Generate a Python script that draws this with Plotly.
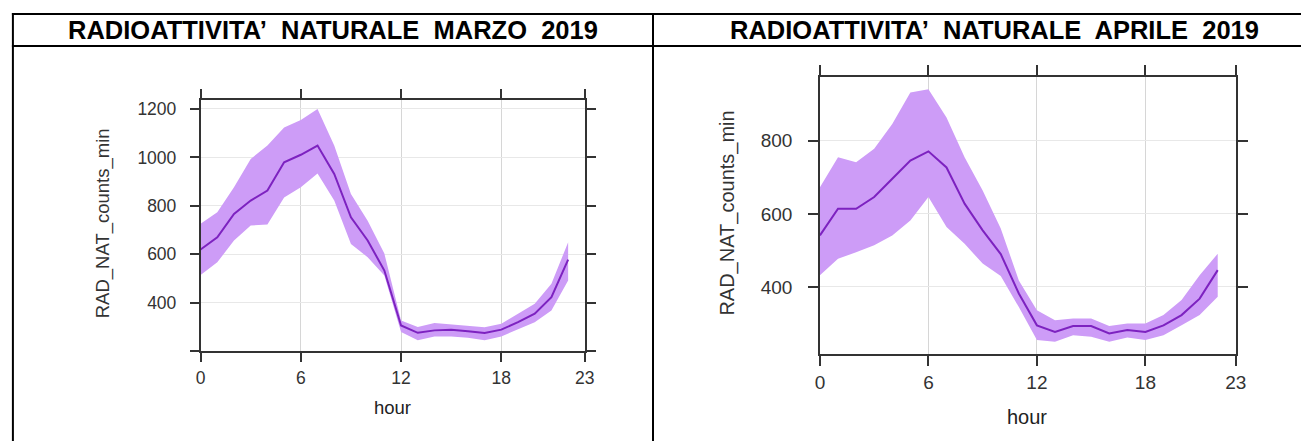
import plotly.graph_objects as go

# Hourly natural radioactivity (counts/min): mean and band limits
hours = list(range(23))

mar_mean = [620, 670, 767, 822, 863, 980, 1011, 1049, 932, 753, 657, 533,
            306, 276, 286, 289, 282, 275, 289, 320, 355, 423, 578]
mar_upper = [726, 774, 877, 994, 1049, 1124, 1155, 1200, 1049, 849, 739, 603,
             327, 300, 316, 310, 302, 299, 313, 355, 396, 478, 650]
mar_lower = [515, 567, 657, 719, 723, 835, 877, 934, 822, 643, 588, 513,
             279, 245, 261, 261, 256, 245, 261, 289, 320, 368, 492]

apr_mean = [541, 614, 614, 646, 696, 746, 771, 727, 628, 555, 490, 382,
            295, 277, 293, 293, 273, 282, 277, 295, 323, 368, 446]
apr_upper = [673, 755, 741, 778, 846, 932, 941, 864, 755, 664, 560, 418,
             336, 309, 314, 314, 293, 300, 300, 323, 364, 432, 491]
apr_lower = [432, 477, 495, 514, 541, 582, 646, 564, 518, 464, 430, 345,
             255, 250, 268, 264, 250, 262, 255, 268, 295, 323, 373]

x_ticks = [0, 6, 12, 18, 23]
mar_yticks = [200, 400, 600, 800, 1000, 1200]
mar_ylabels = ["", "400", "600", "800", "1000", "1200"]
apr_yticks = [400, 600, 800]
apr_ylabels = ["400", "600", "800"]

titles = ["RADIOATTIVITA\u2019\u00a0 NATURALE\u00a0 MARZO\u00a0 2019",
          "RADIOATTIVITA\u2019\u00a0 NATURALE\u00a0 APRILE\u00a0 2019"]

W, H = 1312, 441
BAND = "#cd9cf7"
LINE = "#7d22c0"
AX = "#333333"
FONT = "Liberation Sans, Arial, sans-serif"


def px(x):
    return x / W


def py(y):
    return 1 - y / H


fig = go.Figure()


def add_panel(idx, mean, upper, lower):
    xa = "x" if idx == 1 else "x2"
    ya = "y" if idx == 1 else "y2"
    fig.add_trace(go.Scatter(x=hours, y=lower, mode="lines", line=dict(width=0),
                             xaxis=xa, yaxis=ya, showlegend=False, hoverinfo="skip"))
    fig.add_trace(go.Scatter(x=hours, y=upper, mode="lines", line=dict(width=0),
                             fill="tonexty", fillcolor=BAND,
                             xaxis=xa, yaxis=ya, showlegend=False, hoverinfo="skip"))
    fig.add_trace(go.Scatter(x=hours, y=mean, mode="lines",
                             line=dict(color=LINE, width=2),
                             xaxis=xa, yaxis=ya, showlegend=False))


add_panel(1, mar_mean, mar_upper, mar_lower)
add_panel(2, apr_mean, apr_upper, apr_lower)


def axis_style(size, ticklen, standoff):
    return dict(showline=True, linecolor=AX, linewidth=1.5, mirror="ticks",
                ticks="outside", ticklen=ticklen, tickwidth=1.5, tickcolor=AX,
                tickfont=dict(family=FONT, size=size, color="#333333"),
                ticklabelstandoff=standoff, zeroline=False, showgrid=True,
                gridwidth=1)


fig.update_layout(
    width=W, height=H,
    margin=dict(l=0, r=0, t=0, b=0),
    paper_bgcolor="white", plot_bgcolor="white",
    xaxis=dict(domain=[px(198), px(587)], anchor="y", range=[0, 23],
               tickvals=x_ticks, gridcolor="#d6d6d6",
               **axis_style(17.5, 9, 1)),
    yaxis=dict(domain=[py(351), py(99)], anchor="x", range=[200, 1238],
               tickvals=mar_yticks, ticktext=mar_ylabels, gridcolor="#e8e8e8",
               **axis_style(17.5, 9, 10)),
    xaxis2=dict(domain=[px(825), px(1246)], anchor="y2", range=[0, 23],
                tickvals=x_ticks, gridcolor="#d6d6d6",
                **axis_style(19, 10, 0)),
    yaxis2=dict(domain=[py(354), py(76)], anchor="x2", range=[216, 975],
                tickvals=apr_yticks, ticktext=apr_ylabels, gridcolor="#e8e8e8",
                **axis_style(19, 10, 12)),
)

# Table frame around the two panels
frame = dict(color="black", width=2)
shapes = [
    dict(type="line", xref="paper", yref="paper", x0=px(7), x1=1.0, y0=py(13), y1=py(13), line=frame),
    dict(type="line", xref="paper", yref="paper", x0=px(7), x1=1.0, y0=py(45), y1=py(45), line=frame),
    dict(type="line", xref="paper", yref="paper", x0=px(8), x1=px(8), y0=py(12), y1=0, line=frame),
    dict(type="line", xref="paper", yref="paper", x0=px(656), x1=px(656), y0=py(12), y1=0, line=frame),
]
fig.update_layout(shapes=shapes)

annotations = [
    dict(text="<b>%s</b>" % titles[0], x=px(332), y=py(29)),
    dict(text="<b>%s</b>" % titles[1], x=px(1002), y=py(29)),
]
for a in annotations:
    a.update(xref="paper", yref="paper", showarrow=False, xanchor="center", yanchor="middle",
             font=dict(family=FONT, size=25.5, color="black"))

labels = [
    dict(text="hour", x=px(392), y=py(407), font=dict(family=FONT, size=18.5, color="#222222")),
    dict(text="hour", x=px(1035), y=py(417), font=dict(family=FONT, size=20, color="#222222")),
    dict(text="RAD_NAT_counts_min", x=px(100), y=py(223), textangle=-90,
         font=dict(family=FONT, size=18.5, color="#333333")),
    dict(text="RAD_NAT_counts_min", x=px(731), y=py(213), textangle=-90,
         font=dict(family=FONT, size=20, color="#333333")),
]
for a in labels:
    a.update(xref="paper", yref="paper", showarrow=False, xanchor="center", yanchor="middle")

fig.update_layout(annotations=annotations + labels)

fig.write_html("out.html")
